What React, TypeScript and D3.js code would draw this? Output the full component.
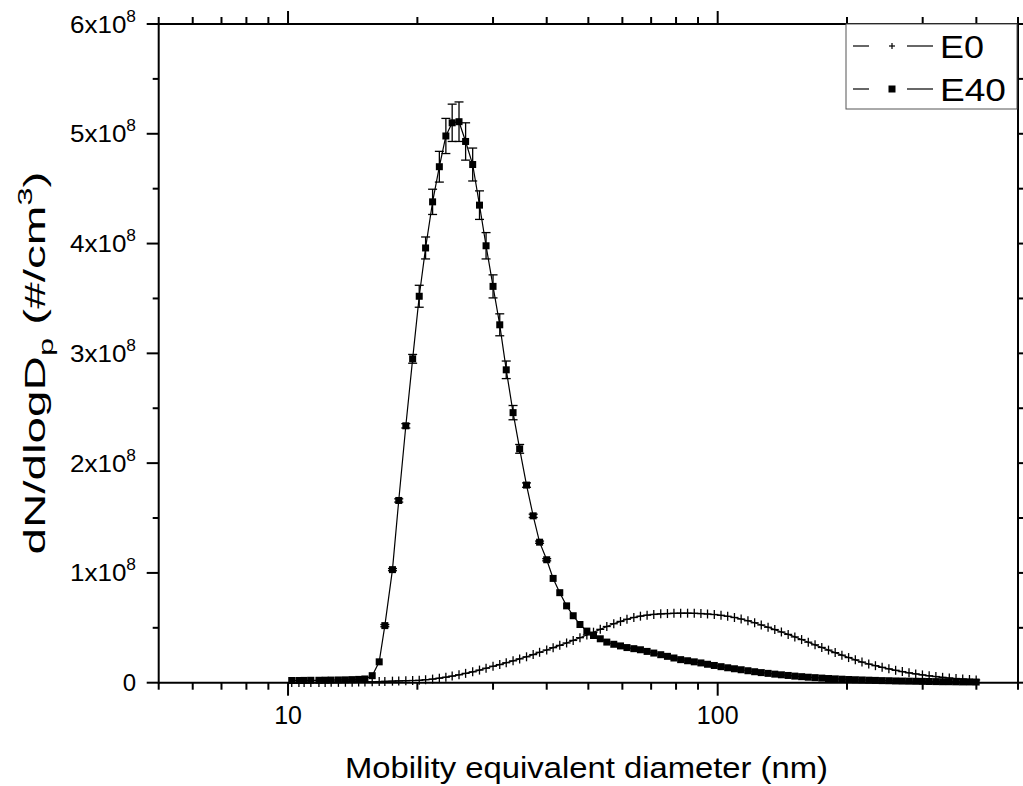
import React from 'react';
import * as d3 from 'd3';

// Mobility diameters (nm), SMPS channels
const diameters = [10.2, 10.6, 10.9, 11.3, 11.8, 12.2, 12.6, 13.1, 13.6, 14.1,
  14.6, 15.1, 15.7, 16.3, 16.8, 17.5, 18.1, 18.8, 19.5, 20.2,
  20.9, 21.7, 22.5, 23.3, 24.1, 25.0, 25.9, 26.9, 27.9, 28.9,
  30.0, 31.1, 32.2, 33.4, 34.6, 35.9, 37.2, 38.5, 40.0, 41.4,
  42.9, 44.5, 46.1, 47.8, 49.6, 51.4, 53.3, 55.2, 57.3, 59.4,
  61.5, 63.8, 66.1, 68.5, 71.0, 73.7, 76.4, 79.1, 82.0, 85.1,
  88.2, 91.4, 94.7, 98.2, 101.8, 105.5, 109.4, 113.4, 117.6, 121.9,
  126.3, 131.0, 135.8, 140.7, 145.9, 151.2, 156.8, 162.5, 168.5, 174.7,
  181.1, 187.7, 194.6, 201.7, 209.1, 216.7, 224.7, 232.9, 241.4, 250.3,
  259.5, 269.0, 278.8, 289.0, 299.6, 310.6, 322.0, 333.8, 346.0, 358.7,
  371.8, 385.5, 399.6];

// dN/dlogDp in units of 1e8 #/cm3
const e0Values = [0.001, 0.001, 0.001, 0.002, 0.002, 0.002, 0.003, 0.003, 0.004, 0.005,
  0.006, 0.007, 0.008, 0.010, 0.012, 0.014, 0.016, 0.018, 0.020, 0.022,
  0.027, 0.033, 0.041, 0.050, 0.060, 0.072, 0.085, 0.099, 0.115, 0.132,
  0.150, 0.165, 0.182, 0.199, 0.217, 0.236, 0.256, 0.277, 0.298, 0.319,
  0.340, 0.362, 0.385, 0.410, 0.435, 0.460, 0.486, 0.512, 0.537, 0.558,
  0.578, 0.594, 0.606, 0.615, 0.622, 0.627, 0.630, 0.632, 0.633, 0.633,
  0.632, 0.630, 0.626, 0.621, 0.614, 0.605, 0.594, 0.580, 0.564, 0.546,
  0.526, 0.505, 0.484, 0.462, 0.440, 0.417, 0.393, 0.369, 0.345, 0.321,
  0.297, 0.274, 0.251, 0.229, 0.208, 0.188, 0.170, 0.155, 0.140, 0.126,
  0.113, 0.101, 0.090, 0.080, 0.071, 0.063, 0.056, 0.049, 0.043, 0.038,
  0.033, 0.029, 0.025];

const e40Values = [0.020, 0.020, 0.021, 0.022, 0.022, 0.023, 0.024, 0.025, 0.026, 0.028,
  0.030, 0.034, 0.064, 0.19, 0.52, 1.03, 1.66, 2.34, 2.95, 3.52,
  3.96, 4.38, 4.70, 4.98, 5.10, 5.11, 4.93, 4.72, 4.35, 3.98,
  3.61, 3.26, 2.85, 2.46, 2.13, 1.80, 1.52, 1.28, 1.12, 0.95,
  0.82, 0.70, 0.61, 0.53, 0.47, 0.43, 0.40, 0.37, 0.35, 0.335,
  0.32, 0.31, 0.30, 0.285, 0.27, 0.255, 0.24, 0.225, 0.21, 0.20,
  0.19, 0.18, 0.168, 0.157, 0.146, 0.136, 0.127, 0.118, 0.109, 0.10,
  0.092, 0.085, 0.078, 0.072, 0.066, 0.060, 0.055, 0.050, 0.046, 0.042,
  0.038, 0.035, 0.032, 0.029, 0.027, 0.025, 0.023, 0.021, 0.019, 0.018,
  0.016, 0.015, 0.014, 0.013, 0.012, 0.011, 0.010, 0.009, 0.009, 0.008,
  0.007, 0.007, 0.006];

const e40Errors = [0, 0, 0, 0, 0, 0, 0, 0, 0, 0,
  0, 0, 0, 0.005, 0.01, 0.01, 0.015, 0.02, 0.04, 0.10,
  0.10, 0.115, 0.14, 0.16, 0.17, 0.18, 0.17, 0.15, 0.13, 0.12,
  0.105, 0.10, 0.08, 0.065, 0.04, 0.02, 0.015, 0.01, 0.01, 0.005,
  0, 0, 0, 0, 0, 0, 0, 0, 0, 0,
  0, 0, 0, 0, 0, 0, 0, 0, 0, 0,
  0, 0, 0, 0, 0, 0, 0, 0, 0, 0,
  0, 0, 0, 0, 0, 0, 0, 0, 0, 0,
  0, 0, 0, 0, 0, 0, 0, 0, 0, 0,
  0, 0, 0, 0, 0, 0, 0, 0, 0, 0,
  0, 0, 0];

const seriesNames = ['E0', 'E40'];
const yMajorTicks = [0, 1, 2, 3, 4, 5, 6];
const xMajorTicks = [10, 100];
const xTickLabels = ['10', '100'];
const xMinorTicks = [5, 6, 7, 8, 9, 20, 30, 40, 50, 60, 70, 80, 90, 200, 300, 400, 500];
const xTitle = 'Mobility equivalent diameter (nm)';

const FONT = "'Liberation Sans', Arial, Helvetica, sans-serif";

export default function App() {
  const left = 158.7, right = 1018, top = 24, bottom = 682.7;
  const x = d3.scaleLog().domain([5, 500]).range([left, right]);
  const y = d3.scaleLinear().domain([0, 6]).range([bottom, top]);

  const e0 = diameters.map((d, i) => ({ d, v: e0Values[i] }));
  const e40 = diameters.map((d, i) => ({ d, v: e40Values[i], e: e40Errors[i] }));
  const line = d3.line<{ d: number; v: number }>().x(p => x(p.d)).y(p => y(p.v));

  const yMinor = d3.range(0.5, 6, 1);
  const sw = 2;

  return (
    <svg width={1023} height={786} style={{ position: 'absolute', left: 0, top: 0, background: '#fff' }}
      fontFamily={FONT}>
      <rect x={0} y={0} width={1023} height={786} fill="#fff" />
      {/* data lines */}
      <path d={line(e0) || ''} fill="none" stroke="#000" strokeWidth={1.2} />
      <path d={line(e40) || ''} fill="none" stroke="#000" strokeWidth={1.2} />
      {/* E0 crosses */}
      {e0.map((p, i) => (
        <g key={'c' + i} stroke="#000" strokeWidth={1.3}>
          <line x1={x(p.d) - 4} x2={x(p.d) + 4} y1={y(p.v)} y2={y(p.v)} />
          <line x1={x(p.d)} x2={x(p.d)} y1={y(p.v) - 4.5} y2={y(p.v) + 4.5} />
        </g>
      ))}
      {/* E40 error bars */}
      {e40.filter(p => p.e > 0.008).map((p, i) => (
        <g key={'e' + i} stroke="#000" strokeWidth={1.3}>
          <line x1={x(p.d)} x2={x(p.d)} y1={y(p.v - p.e)} y2={y(p.v + p.e)} />
          <line x1={x(p.d) - 4.5} x2={x(p.d) + 4.5} y1={y(p.v + p.e)} y2={y(p.v + p.e)} />
          <line x1={x(p.d) - 4.5} x2={x(p.d) + 4.5} y1={y(p.v - p.e)} y2={y(p.v - p.e)} />
        </g>
      ))}
      {/* E40 squares */}
      {e40.map((p, i) => (
        <rect key={'s' + i} x={x(p.d) - 3.5} y={y(p.v) - 3.5} width={7} height={7} fill="#000" />
      ))}

      {/* frame */}
      <g stroke="#000" strokeWidth={sw} fill="none">
        <line x1={left} x2={right} y1={bottom} y2={bottom} />
        <line x1={left} x2={right} y1={top} y2={top} />
        <line x1={left} x2={left} y1={top - 1} y2={bottom + 1} />
        <line x1={right} x2={right} y1={top - 1} y2={bottom + 1} />
        {yMajorTicks.map(t => (
          <g key={'ym' + t}>
            <line x1={left - 12} x2={left} y1={y(t)} y2={y(t)} />
            <line x1={right} x2={right + 12} y1={y(t)} y2={y(t)} />
          </g>
        ))}
        {yMinor.map(t => (
          <g key={'yn' + t}>
            <line x1={left - 6} x2={left} y1={y(t)} y2={y(t)} />
            <line x1={right} x2={right + 6} y1={y(t)} y2={y(t)} />
          </g>
        ))}
        {xMajorTicks.map(t => (
          <g key={'xm' + t}>
            <line x1={x(t)} x2={x(t)} y1={bottom} y2={bottom + 13} />
            <line x1={x(t)} x2={x(t)} y1={top} y2={top - 13} />
          </g>
        ))}
        {xMinorTicks.map(t => (
          <g key={'xn' + t}>
            <line x1={x(t)} x2={x(t)} y1={bottom} y2={bottom + 7} />
            <line x1={x(t)} x2={x(t)} y1={top} y2={top - 7} />
          </g>
        ))}
      </g>

      {/* y tick labels */}
      {yMajorTicks.map(t => (
        t === 0 ? (
          <text key={'yl' + t} x={136} y={y(t) + 8.5} fontSize={24} textAnchor="end">0</text>
        ) : (
          <text key={'yl' + t} x={70} y={y(t) + 8.5} fontSize={24} textLength={66} lengthAdjust="spacingAndGlyphs">
            {t + 'x10'}<tspan fontSize={16} dy={-11}>8</tspan>
          </text>
        )
      ))}
      {/* x tick labels */}
      {xMajorTicks.map((t, i) => (
        <text key={'xl' + t} x={x(t)} y={724} fontSize={25} textAnchor="middle">{xTickLabels[i]}</text>
      ))}
      {/* x title */}
      <text x={586.5} y={778} fontSize={29} textAnchor="middle" textLength={483} lengthAdjust="spacingAndGlyphs">{xTitle}</text>
      {/* y title */}
      <text transform="translate(45,363) rotate(-90)" fontSize={29} textAnchor="middle" textLength={383} lengthAdjust="spacingAndGlyphs">
        dN/dlogD<tspan fontSize={20} dy={8}>p</tspan><tspan dy={-8}> (#/cm</tspan><tspan fontSize={20} dy={-13}>3</tspan><tspan dy={13}>)</tspan>
      </text>

      {/* legend */}
      <rect x={846} y={24} width={171} height={85} fill="#fff" stroke="#555" strokeWidth={1} />
      {seriesNames.map((name, i) => {
        const ly = 46 + i * 43;
        return (
          <g key={'lg' + name}>
            <line x1={853} x2={869} y1={ly} y2={ly} stroke="#000" strokeWidth={1.2} />
            <line x1={907} x2={933} y1={ly} y2={ly} stroke="#000" strokeWidth={1.2} />
            {i === 0 ? (
              <g stroke="#000" strokeWidth={1.2}>
                <line x1={889} x2={895} y1={ly} y2={ly} />
                <line x1={892} x2={892} y1={ly - 3} y2={ly + 3} />
              </g>
            ) : (
              <rect x={888.5} y={ly - 3.5} width={7} height={7} fill="#000" />
            )}
            <text x={940} y={ly + 11.5} fontSize={32} textLength={i === 0 ? 44 : 66} lengthAdjust="spacingAndGlyphs">{name}</text>
          </g>
        );
      })}
    </svg>
  );
}
